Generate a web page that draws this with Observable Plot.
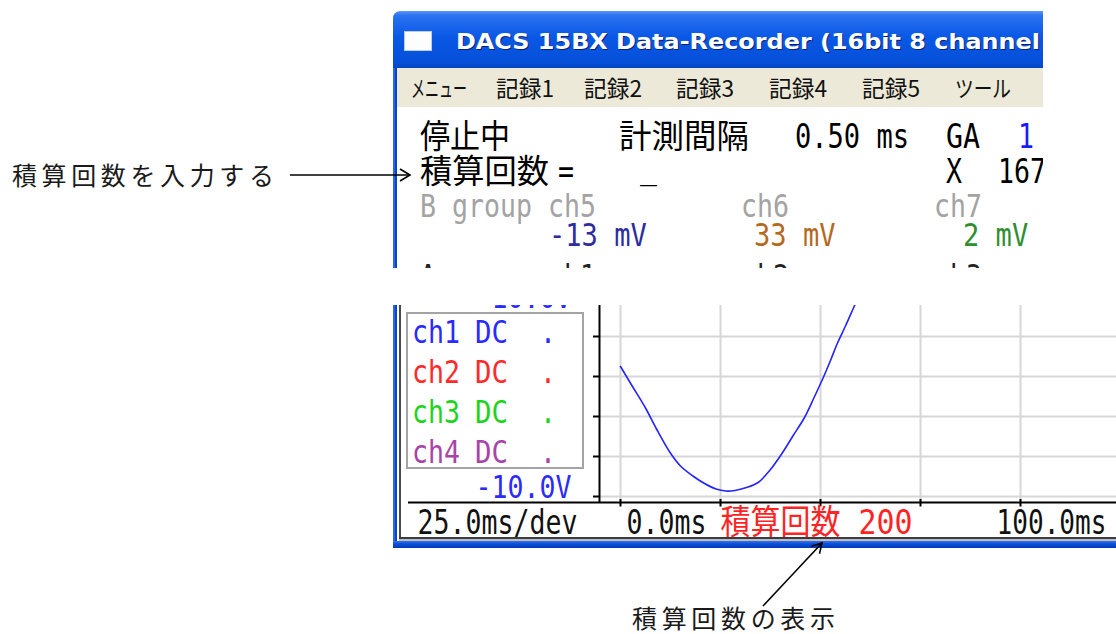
<!DOCTYPE html>
<html lang="ja">
<head>
<meta charset="utf-8">
<title>DACS 積算回数</title>
<script src="https://cdn.jsdelivr.net/npm/d3@7"></script>
<script src="https://cdn.jsdelivr.net/npm/@observablehq/plot@0.6"></script>
<style>
  html, body { margin: 0; padding: 0; background: #fff; }
  #page { position: relative; width: 1116px; height: 634px; overflow: hidden; background: #fff; }
  #plotwrap { position: absolute; left: 393px; top: 305px; width: 723px; height: 243px; overflow: hidden; }
  #plotwrap svg { display: block; }
  #ui { position: absolute; left: 0; top: 0; }
</style>
</head>
<body>
<div id="page">
  <div id="plotwrap"></div>
  <svg id="ui" width="1116" height="634" xmlns="http://www.w3.org/2000/svg"></svg>
</div>
<script>
// ---------------- data ----------------
const timeMs   = [0, 3, 6.25, 9, 12.3, 15, 18.1, 21, 23.9, 26.3, 28.6, 31.5, 34.4, 37.3, 40.2, 43.1, 46.0, 48.4, 50.7, 52.5, 54.2, 56.3, 58.3, 59.3];
const ch1Volts = [3.0, 1.0, -1.15, -3.25, -5.55, -6.95, -7.95, -8.7, -9.25, -9.45, -9.4, -9.1, -8.6, -7.4, -5.8, -3.95, -2.1, -0.1, 1.9, 3.6, 5.3, 7.1, 8.9, 9.8];
const timeTicks = [0, 25, 50, 75, 100];
const voltTicks = [10, 6, 2, -2, -6, -10];
const voltRange = [-10, 10];
const msPerDiv = 25;
const averagingCount = 200;
const channels = ["ch1", "ch2", "ch3", "ch4"];
const couplings = ["DC", "DC", "DC", "DC"];
const menuItems = ["メニュー", "記録1", "記録2", "記録3", "記録4", "記録5", "ツール"];
const statusText = "停止中";
const intervalLabel = "計測間隔";
const intervalMs = 0.5;
const gainLabel = "GA";
const gainGA = 1;
const averagingLabel = "積算回数";
const cursorLabel = "X";
const cursorX = 167;
const groupBName = "B group";
const groupBChannels = ["ch5", "ch6", "ch7"];
const groupBmV = [-13, 33, 2];
const groupAName = "A group";
const groupAChannels = ["ch1", "ch2", "ch3"];
const titleText = "DACS 15BX Data-Recorder (16bit 8 channel";
const noteInput = "積算回数を入力する";
const noteDisplay = "積算回数の表示";

// ---------------- styles ----------------
const MONO = "'DejaVu Sans Mono','Noto Sans CJK JP',monospace";
const JP = "'Noto Sans CJK JP','DejaVu Sans',sans-serif";
const chColors = ["#2b2bff", "#ff2b2b", "#1ed41e", "#a845a8"];
const groupBColors = ["#2d2da0", "#b5691f", "#2f8f2f"];

// ---------------- plot panel (Observable Plot) ----------------
const series = timeMs.map((t, i) => ({t, v: ch1Volts[i]}));
const xDom = [-5.25, 124];
const yDom = [-10.6, 9.1];
const lblDiv = `${msPerDiv.toFixed(1)}ms/dev`;
const lblStart = `${timeTicks[0].toFixed(1)}ms`;
const lblEnd = `${timeTicks[timeTicks.length - 1].toFixed(1)}ms`;
const lblAvg = `${averagingLabel} ${averagingCount}`;
const lblLow = `${voltRange[0].toFixed(1)}V`;
const lblHigh = `${voltRange[1].toFixed(1)}V`;

const chart = Plot.plot({
  width: 723, height: 243,
  marginLeft: 206, marginRight: 0, marginTop: 0, marginBottom: 46,
  x: {domain: xDom, axis: null},
  y: {domain: yDom, axis: null},
  style: {background: "white", fontFamily: MONO},
  marks: [
    Plot.ruleX(timeTicks, {stroke: "#d6d6d6", strokeWidth: 2}),
    Plot.ruleY(voltTicks, {stroke: "#d6d6d6", strokeWidth: 2}),
    Plot.line(series, {x: "t", y: "v", stroke: "#2424ff", strokeWidth: 1.6, curve: "catmull-rom", clip: true}),
    Plot.ruleX([xDom[0]], {y1: yDom[0] - 0.1, y2: yDom[1], stroke: "#000", strokeWidth: 2}),
    Plot.ruleY([yDom[0]], {x1: -53, x2: xDom[1], stroke: "#000", strokeWidth: 2}),
    Plot.ruleY(voltTicks, {x1: xDom[0] - 1.5, x2: xDom[0], stroke: "#000", strokeWidth: 2}),
    Plot.ruleX(timeTicks, {y1: yDom[0] - 0.45, y2: yDom[0] + 0.3, stroke: "#000", strokeWidth: 2}),
    Plot.text([lblHigh], {x: xDom[0], y: voltRange[1], dx: -28, dy: 11, textAnchor: "end", lineAnchor: "bottom", fill: "#2b2bff", fontSize: 32, fontFamily: MONO}),
    Plot.text([lblLow], {x: xDom[0], y: voltRange[0], dx: -28, dy: 1, textAnchor: "end", lineAnchor: "bottom", fill: "#2b2bff", fontSize: 32, fontFamily: MONO}),
    Plot.text([lblDiv], {frameAnchor: "bottom-left", dx: -182, dy: 31, textAnchor: "start", lineAnchor: "bottom", fill: "#111", fontSize: 34, fontFamily: MONO}),
    Plot.text([lblStart], {x: timeTicks[0], frameAnchor: "bottom", dx: 6, dy: 31, textAnchor: "start", lineAnchor: "bottom", fill: "#111", fontSize: 34, fontFamily: MONO}),
    Plot.text([lblAvg], {x: timeTicks[1], frameAnchor: "bottom", dx: 0, dy: 31, textAnchor: "start", lineAnchor: "bottom", fill: "#ff2424", fontSize: 34, fontFamily: MONO}),
    Plot.text([lblEnd], {x: timeTicks[timeTicks.length - 1], frameAnchor: "bottom", dx: -24, dy: 31, textAnchor: "start", lineAnchor: "bottom", fill: "#111", fontSize: 34, fontFamily: MONO})
  ]
});
const fitWidths = new Map([[lblDiv, 160], [lblStart, 80], [lblAvg, 192], [lblEnd, 110], [lblLow, 96], [lblHigh, 80]]);
chart.querySelectorAll("text").forEach(t => {
  const w = fitWidths.get(t.textContent);
  if (w) { t.setAttribute("textLength", w); t.setAttribute("lengthAdjust", "spacingAndGlyphs"); }
});
document.getElementById("plotwrap").appendChild(chart);

// ---------------- window chrome & texts ----------------
const ui = d3.select("#ui");
const defs = ui.append("defs");
const tb = defs.append("linearGradient").attr("id", "tb").attr("x1", 0).attr("y1", 0).attr("x2", 0).attr("y2", 1);
[[0, "#5a96f8"], [0.08, "#2a72f0"], [0.45, "#0a58e6"], [0.9, "#0650d8"], [1, "#0444c2"]]
  .forEach(([o, c]) => tb.append("stop").attr("offset", o).attr("stop-color", c));
const bb = defs.append("linearGradient").attr("id", "bb").attr("x1", 0).attr("y1", 0).attr("x2", 0).attr("y2", 1);
[[0, "#3a72ea"], [0.4, "#0a50dc"], [1, "#0438b4"]]
  .forEach(([o, c]) => bb.append("stop").attr("offset", o).attr("stop-color", c));
defs.append("clipPath").attr("id", "upclip").append("rect")
  .attr("x", 393).attr("y", 0).attr("width", 650).attr("height", 268);

function label(parent, s, x, y, o = {}) {
  const t = parent.append("text").attr("x", x).attr("y", y).text(s)
    .attr("font-family", o.family || MONO)
    .attr("font-size", o.size || 34)
    .attr("fill", o.fill || "#000")
    .style("white-space", "pre");
  if (o.weight) t.attr("font-weight", o.weight);
  if (o.anchor) t.attr("text-anchor", o.anchor);
  if (o.w) t.attr("textLength", o.w).attr("lengthAdjust", o.adjust || "spacingAndGlyphs");
  return t;
}

// upper window
const up = ui.append("g").attr("clip-path", "url(#upclip)");
up.append("rect").attr("x", 393).attr("y", 60).attr("width", 2).attr("height", 208).attr("fill", "#2a66e6");
up.append("rect").attr("x", 395).attr("y", 60).attr("width", 2).attr("height", 208).attr("fill", "#0a44c8");
up.append("path").attr("d", "M393,19 Q393,11 401,11 H1043 V68 H393 Z").attr("fill", "url(#tb)");
up.append("rect").attr("x", 404.5).attr("y", 31.5).attr("width", 27).attr("height", 19)
  .attr("fill", "#fdfdfd").attr("stroke", "#b9cdf2").attr("stroke-width", 1);
label(up, titleText, 457, 50, {family: "'DejaVu Sans',sans-serif", weight: "bold", size: 22, fill: "#0a1f6e", w: 584});
label(up, titleText, 456, 49, {family: "'DejaVu Sans',sans-serif", weight: "bold", size: 22, fill: "#ffffff", w: 584});

up.append("rect").attr("x", 397).attr("y", 68).attr("width", 646).attr("height", 39).attr("fill", "#ece9d8");
const menuX = [411, 496, 584, 676, 769, 862, 955];
const menuW = [56, 58, 58, 58, 58, 58, 56];
menuItems.forEach((m, i) => label(up, m, menuX[i], 97, {family: JP, size: 23, fill: "#111", w: menuW[i]}));

up.append("rect").attr("x", 397).attr("y", 107).attr("width", 646).attr("height", 161).attr("fill", "#fff");
// row 1
label(up, statusText, 420, 148, {family: JP, size: 33, w: 90});
label(up, intervalLabel, 619, 148, {family: JP, size: 33, w: 130});
label(up, `${intervalMs.toFixed(2)} ms`, 795, 148, {w: 114});
label(up, gainLabel, 946, 148, {w: 34});
label(up, String(gainGA), 1018, 148, {w: 16, fill: "#1a1aff"});
// row 2
label(up, averagingLabel, 420, 183, {family: JP, size: 33, w: 129});
label(up, "=", 558, 183, {w: 16});
label(up, "_", 640, 178, {w: 17});
label(up, cursorLabel, 946, 183, {w: 16});
label(up, String(cursorX), 998, 183, {w: 48});
// row 3 / 4 : B group
label(up, `${groupBName} ${groupBChannels[0]}`, 420, 217, {size: 32, fill: "#a3a3a3", w: 176});
label(up, groupBChannels[1], 741, 217, {size: 32, fill: "#a3a3a3", w: 48});
label(up, groupBChannels[2], 934, 217, {size: 32, fill: "#a3a3a3", w: 48});
const valX = [549, 754, 963];
groupBmV.forEach((v, i) => {
  const s = `${v} mV`;
  label(up, s, valX[i], 246, {size: 32, fill: groupBColors[i], w: s.length * 16.3});
});
// row 5 : A group (cut off by the window edge)
label(up, `${groupAName} ${groupAChannels[0]}`, 420, 287, {size: 32, fill: "#222", w: 176});
label(up, groupAChannels[1], 741, 287, {size: 32, fill: "#222", w: 48});
label(up, groupAChannels[2], 934, 287, {size: 32, fill: "#222", w: 48});

// lower window frame
ui.append("rect").attr("x", 393).attr("y", 305).attr("width", 2).attr("height", 243).attr("fill", "#2a66e6");
ui.append("rect").attr("x", 395).attr("y", 305).attr("width", 2).attr("height", 243).attr("fill", "#0a44c8");
ui.append("rect").attr("x", 399).attr("y", 305).attr("width", 2).attr("height", 234).attr("fill", "#4a4a4a");
ui.append("rect").attr("x", 399).attr("y", 537).attr("width", 717).attr("height", 2).attr("fill", "#3c3c3c");
ui.append("rect").attr("x", 399).attr("y", 539).attr("width", 717).attr("height", 2).attr("fill", "#bdbdbd");
ui.append("rect").attr("x", 393).attr("y", 541).attr("width", 723).attr("height", 7).attr("fill", "url(#bb)");

// channel legend box
ui.append("rect").attr("x", 407).attr("y", 313).attr("width", 176).attr("height", 155)
  .attr("fill", "#fff").attr("stroke", "#a4a4a4").attr("stroke-width", 2);
channels.forEach((c, i) => {
  const y = 343 + 40 * i;
  label(ui, c, 412, y, {size: 32, fill: chColors[i], w: 48});
  label(ui, couplings[i], 475, y, {size: 32, fill: chColors[i], w: 33});
  label(ui, ".", 540, y, {size: 32, fill: chColors[i], w: 16});
});

// annotations
label(ui, noteInput, 12, 185, {family: JP, size: 25, fill: "#1a1a1a", w: 262, adjust: "spacing"});
label(ui, noteDisplay, 632, 628, {family: JP, size: 25, fill: "#1a1a1a", w: 203, adjust: "spacing"});
const arrows = ui.append("g").attr("stroke", "#000").attr("stroke-width", 1.6).attr("fill", "none");
arrows.append("line").attr("x1", 290).attr("y1", 175).attr("x2", 409).attr("y2", 175);
arrows.append("path").attr("d", "M400,169 L410,175 L400,181");
arrows.append("line").attr("x1", 763).attr("y1", 606).attr("x2", 822).attr("y2", 543);
arrows.append("path").attr("d", "M811.5,546.2 L822,543 L819.5,553.7");
</script>
</body>
</html>
